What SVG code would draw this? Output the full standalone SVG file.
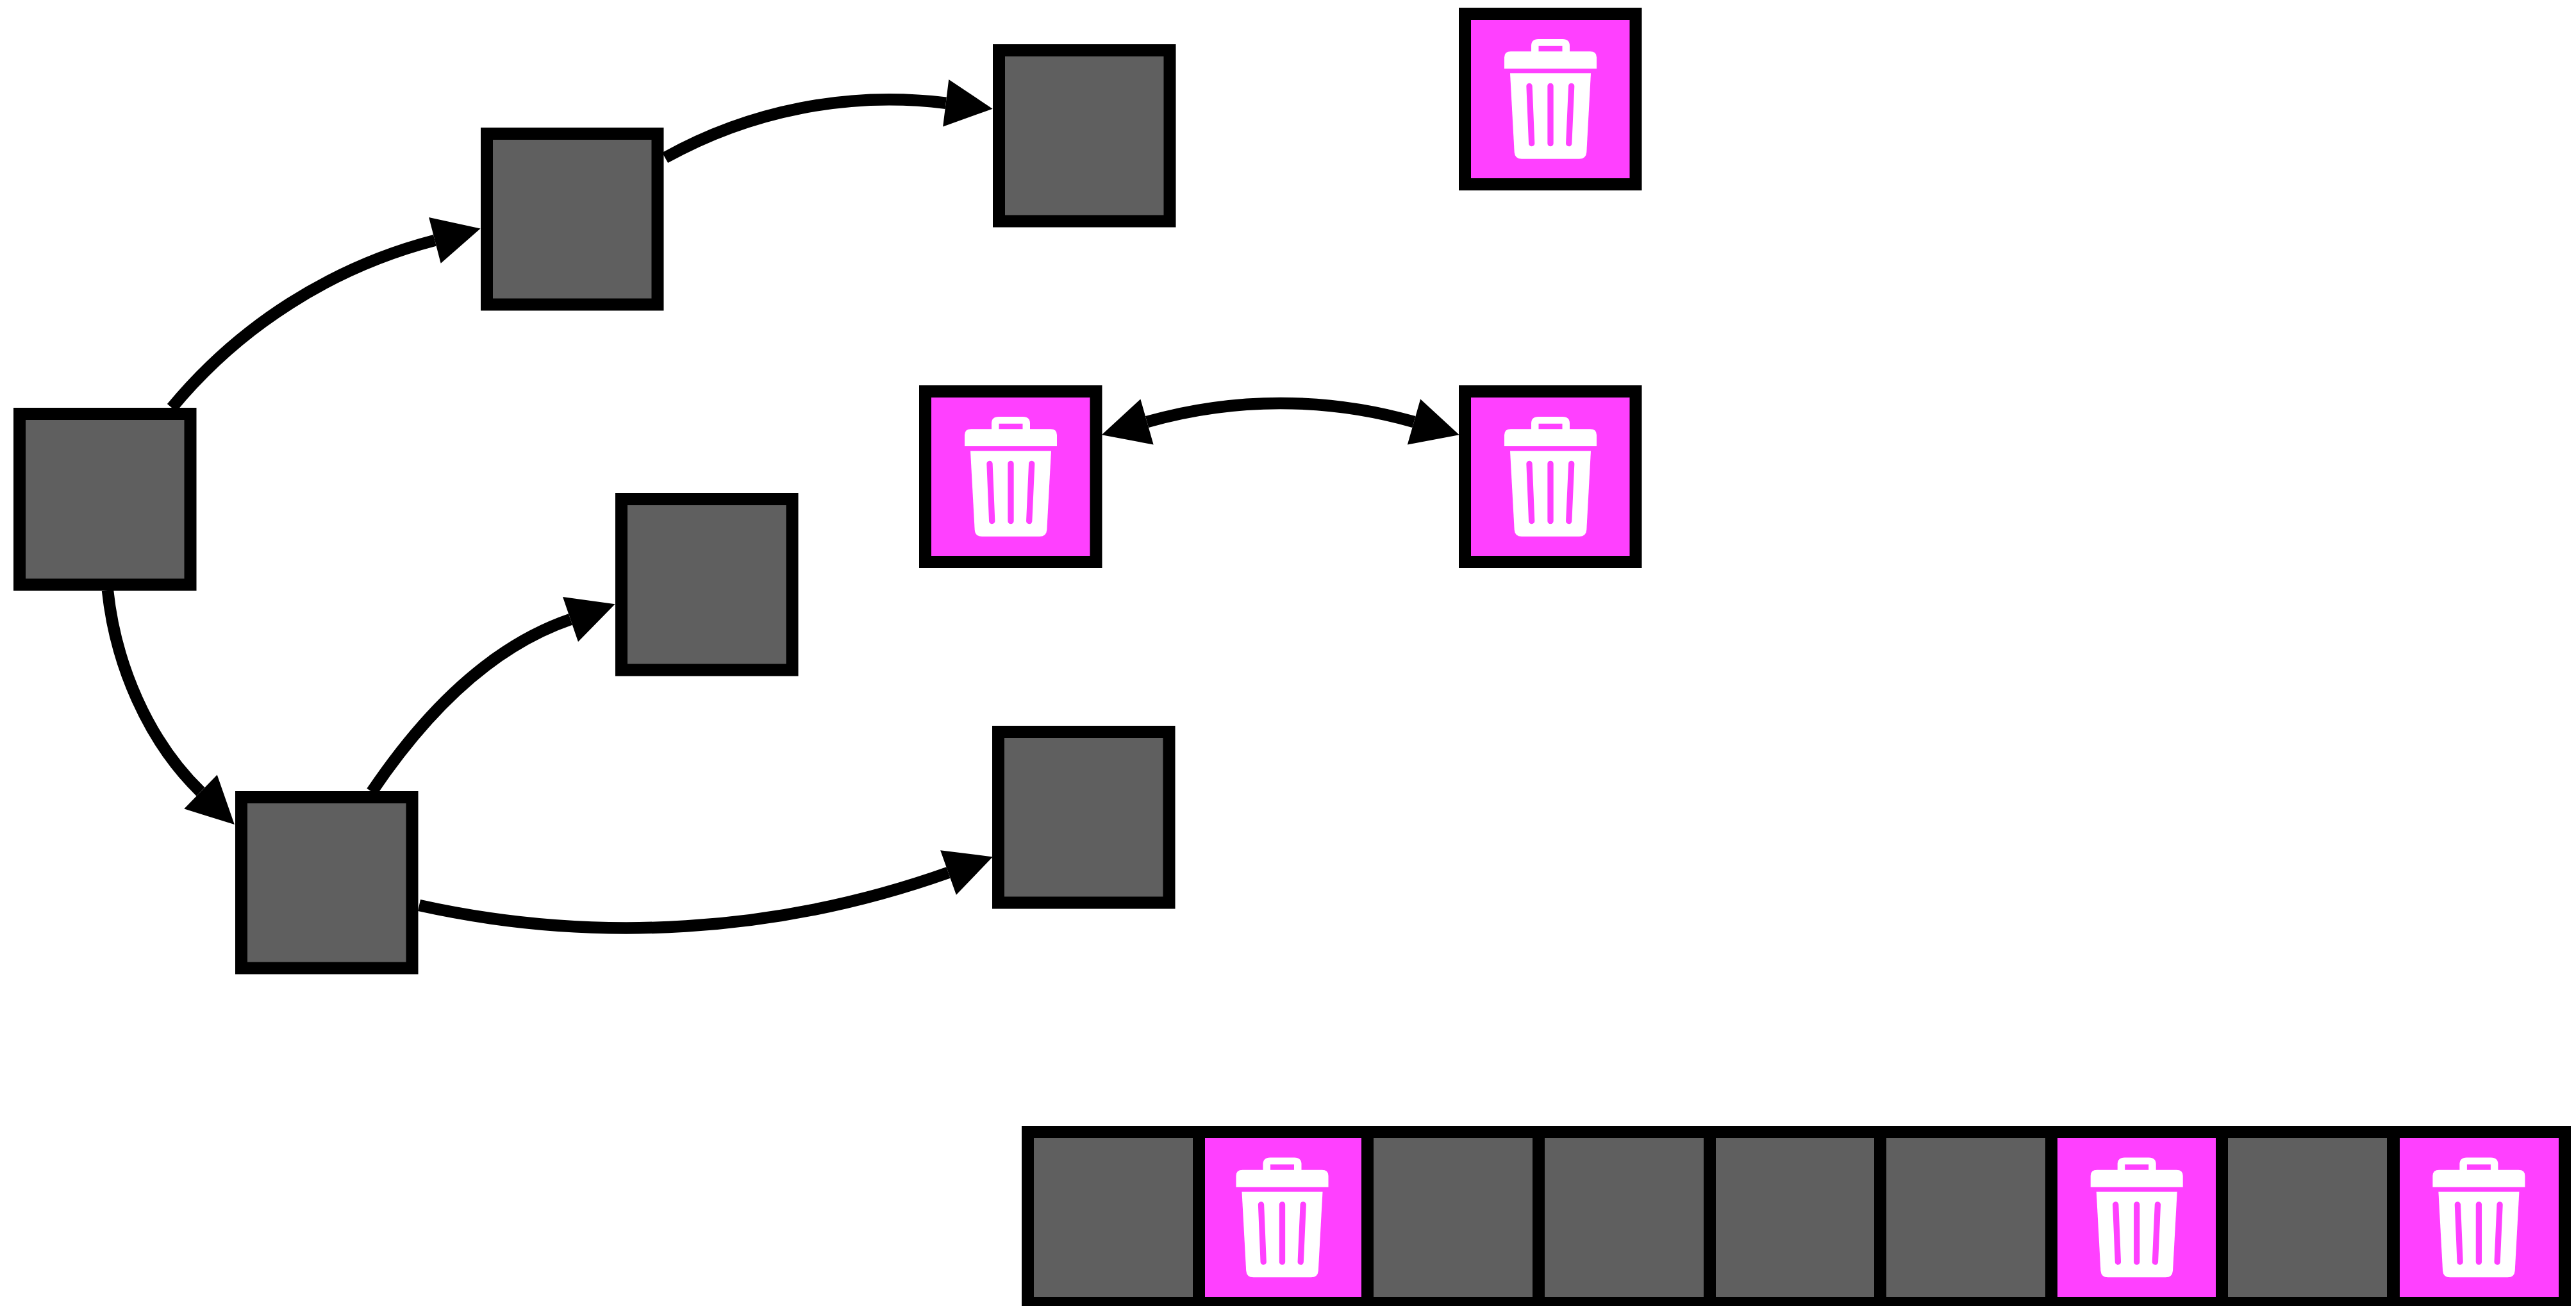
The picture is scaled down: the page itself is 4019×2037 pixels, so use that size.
<svg xmlns="http://www.w3.org/2000/svg" xmlns:xlink="http://www.w3.org/1999/xlink" width="4019" height="2037" viewBox="0 0 4019 2037">
  <style>
    .box { stroke: #000; stroke-width: 19; stroke-linejoin: miter; }
    .gray { fill: #5f5f5f; }
    .pink { fill: #ff40ff; }
    .edge { fill: none; stroke: #000; stroke-width: 18.5; stroke-linecap: butt; }
    .slot { fill: none; stroke: #ff40ff; stroke-width: 9.3; stroke-linecap: round; }
  </style>
  <defs>
    <marker id="head" markerUnits="userSpaceOnUse" markerWidth="74" markerHeight="74" refX="0" refY="37" orient="auto-start-reverse" overflow="visible">
      <path d="M0,0 L73.5,37 L0,74 Z" fill="#000"/>
    </marker>
    <g id="trash">
      <path fill="#fff" fill-rule="evenodd" d="M-72,-47.5 V-65 Q-72,-74.2 -62,-74.2 H-30 V-83 Q-30,-93.5 -19,-93.5 H19 Q30,-93.5 30,-83 V-74.2 H62 Q72,-74.2 72,-65 V-47.5 Z M-18.5,-82.8 H18.5 V-74.2 H-18.5 Z"/>
      <path fill="#fff" d="M-63,-40.2 H63 L56.3,83 Q55.5,93.3 45,93.3 H-45 Q-55.5,93.3 -56.3,83 Z"/>
      <path class="slot" d="M-33,-20.2 L-29.3,69.2 M0,-20.2 V69.2 M32.7,-20.2 L28.7,69.2"/>
    </g>
  </defs>
  <rect width="4019" height="2037" fill="#fff"/>

  <g id="connectors">
    <path class="edge" marker-end="url(#head)" d="M268,636 A790,790 0 0 1 678.4,374.9"/>
    <path class="edge" marker-end="url(#head)" d="M1037.6,246 A720,720 0 0 1 1475.7,160.7"/>
    <path class="edge" marker-end="url(#head)" d="M168,921 C180,1035 230.3,1155 313,1235"/>
    <path class="edge" marker-end="url(#head)" d="M580,1235 C657.7,1119.8 758.5,1011 890,966"/>
    <path class="edge" marker-end="url(#head)" d="M654,1412 A1500,1500 0 0 0 1479.5,1361"/>
    <path class="edge" marker-start="url(#head)" marker-end="url(#head)" d="M1789.5,658 A760,760 0 0 1 2206,658"/>
  </g>

  <g id="node-root"><rect class="box gray" x="30.5" y="645.5" width="266.5" height="266.5"/></g>
  <g id="node-a"><rect class="box gray" x="759.5" y="208.5" width="266.5" height="266.5"/></g>
  <g id="node-b"><rect class="box gray" x="1558.5" y="78.5" width="266.5" height="266.5"/></g>
  <g id="node-c"><rect class="box gray" x="376.5" y="1243.5" width="266.5" height="266.5"/></g>
  <g id="node-d"><rect class="box gray" x="969.5" y="778.5" width="266.5" height="266.5"/></g>
  <g id="node-e"><rect class="box gray" x="1557.5" y="1141.5" width="266.5" height="266.5"/></g>

  <g id="node-del-top"><rect class="box pink" x="2285.5" y="21.5" width="266.5" height="266"/><use href="#trash" x="2419" y="154.5"/></g>
  <g id="node-del-left"><rect class="box pink" x="1443.5" y="610.5" width="266.5" height="266"/><use href="#trash" x="1577" y="743.5"/></g>
  <g id="node-del-right"><rect class="box pink" x="2285.5" y="610.5" width="266.5" height="266"/><use href="#trash" x="2419" y="743.5"/></g>

  <g id="row-1"><rect class="box gray" x="1603.5" y="1765.5" width="267" height="267"/></g>
  <g id="row-2"><rect class="box pink" x="1870.5" y="1765.5" width="267" height="267"/><use href="#trash" x="2000.5" y="1899"/></g>
  <g id="row-3"><rect class="box gray" x="2133.5" y="1765.5" width="267" height="267"/></g>
  <g id="row-4"><rect class="box gray" x="2400.5" y="1765.5" width="267" height="267"/></g>
  <g id="row-5"><rect class="box gray" x="2667.5" y="1765.5" width="267" height="267"/></g>
  <g id="row-6"><rect class="box gray" x="2933.5" y="1765.5" width="267" height="267"/></g>
  <g id="row-7"><rect class="box pink" x="3200.5" y="1765.5" width="267" height="267"/><use href="#trash" x="3333.7" y="1899"/></g>
  <g id="row-8"><rect class="box gray" x="3466.5" y="1765.5" width="267" height="267"/></g>
  <g id="row-9"><rect class="box pink" x="3734.5" y="1765.5" width="267" height="267"/><use href="#trash" x="3867.4" y="1899"/></g>
</svg>
